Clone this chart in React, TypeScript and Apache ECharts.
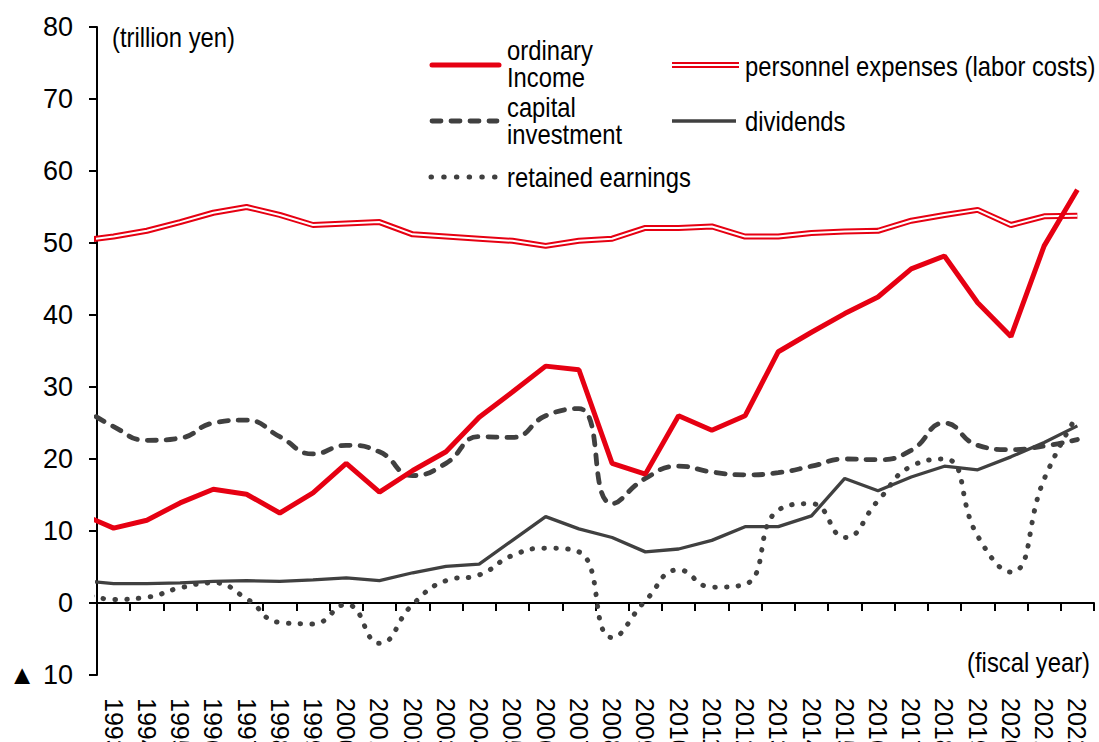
import React, { useEffect, useRef } from 'react';
import * as echarts from 'echarts';

const FONT = "'Liberation Sans', Arial, sans-serif";
const RED = '#E60012';
const GRAY = '#404040';
const NARROW = 0.85;

// Category labels shown on the axis
const yearLabels = [
  '1993', '1994', '1995', '1996', '1997', '1998', '1999', '2000', '2001', '2002',
  '2003', '2004', '2005', '2006', '2007', '2008', '2009', '2010', '2011', '2012',
  '2013', '2014', '2015', '2016', '2017', '2018', '2019', '2020', '2021', '2022',
];

// Years of the data points (1992 lies just outside the left edge and is clipped)
const dataYears = [
  1992, 1993, 1994, 1995, 1996, 1997, 1998, 1999, 2000, 2001, 2002,
  2003, 2004, 2005, 2006, 2007, 2008, 2009, 2010, 2011, 2012,
  2013, 2014, 2015, 2016, 2017, 2018, 2019, 2020, 2021, 2022,
];

// trillion yen
const ordinaryIncome = [
  12.4, 10.4, 11.5, 13.9, 15.8, 15.1, 12.5, 15.3, 19.4, 15.4, 18.4,
  21.0, 25.8, 29.3, 32.9, 32.4, 19.4, 17.9, 26.0, 24.0, 26.0,
  34.9, 37.6, 40.2, 42.5, 46.4, 48.2, 41.7, 37.0, 49.6, 57.4,
];
const personnelExpenses = [
  50.3, 50.9, 51.7, 52.9, 54.2, 55.0, 53.9, 52.5, 52.7, 52.9, 51.2,
  50.9, 50.6, 50.3, 49.6, 50.3, 50.6, 52.1, 52.1, 52.3, 50.9,
  50.9, 51.4, 51.6, 51.7, 53.1, 53.9, 54.6, 52.5, 53.7, 53.8,
];
const capitalInvestment = [
  27.3, 24.5, 22.6, 22.9, 25.0, 25.4, 23.1, 20.7, 21.9, 21.0, 17.7,
  19.4, 23.1, 23.0, 26.0, 27.0, 13.8, 17.3, 19.0, 18.2, 17.8,
  18.1, 19.0, 20.0, 19.9, 21.2, 25.0, 21.9, 21.3, 21.8, 22.7,
];
const dividends = [
  3.1, 2.7, 2.7, 2.8, 3.0, 3.1, 3.0, 3.2, 3.5, 3.1, 4.2,
  5.1, 5.4, 8.7, 12.0, 10.3, 9.1, 7.1, 7.5, 8.7, 10.6,
  10.6, 12.1, 17.3, 15.6, 17.5, 19.0, 18.5, 20.3, 22.3, 24.6,
];
const retainedEarnings = [
  1.5, 0.5, 0.8, 2.1, 2.8, 0.6, -2.7, -2.9, -0.2, -5.6, -0.2,
  3.1, 3.9, 6.6, 7.6, 7.1, -4.8, 0.3, 4.6, 2.2, 2.6,
  12.9, 13.8, 9.1, 14.2, 19.0, 20.0, 9.3, 4.3, 17.2, 26.1,
];

const yTicks = { min: -10, max: 80, interval: 10 };

const pairs = (vals: number[]) => vals.map((v, i) => [dataYears[i], v]);

function textEl(text: string, x: number, y: number, align: string, lineHeight = 28) {
  return {
    type: 'text',
    x,
    y,
    scaleX: NARROW,
    style: {
      text,
      fontSize: 28,
      fontFamily: FONT,
      fill: '#000',
      align,
      verticalAlign: 'middle',
      textAlign: align,
      textVerticalAlign: 'middle',
      lineHeight,
    },
    z: 100,
  };
}

function lineEl(x1: number, x2: number, y: number, style: any) {
  return { type: 'line', shape: { x1, y1: y, x2, y2: y }, style, z: 100 };
}

export default function App() {
  const ref = useRef<HTMLDivElement>(null);
  useEffect(() => {
    document.body.style.margin = '0';
    const chart = echarts.init(ref.current!, null, { renderer: 'svg' });
    const option: any = {
      animation: false,
      backgroundColor: '#fff',
      grid: {
        left: 97,
        right: 5,
        top: 27,
        bottom: 67,
        containLabel: false,
        outerBoundsMode: 'none',
      },
      xAxis: [
        {
          type: 'category',
          data: yearLabels,
          boundaryGap: true,
          position: 'bottom',
          axisLine: { show: false, onZero: false },
          axisTick: { show: false },
          splitLine: { show: false },
          axisLabel: {
            rotate: -90,
            interval: 0,
            margin: 23,
            fontSize: 25,
            fontFamily: FONT,
            color: '#000',
            hideOverlap: false,
          },
        },
        {
          type: 'value',
          min: 1992.5,
          max: 2022.5,
          interval: 1,
          position: 'bottom',
          axisLine: { show: true, onZero: true, lineStyle: { color: '#000', width: 2 } },
          axisTick: { show: true, length: 8, lineStyle: { color: '#000', width: 2 } },
          axisLabel: { show: false },
          splitLine: { show: false },
        },
      ],
      yAxis: {
        type: 'value',
        min: yTicks.min,
        max: yTicks.max,
        interval: yTicks.interval,
        axisLine: { show: true, onZero: false, lineStyle: { color: '#000', width: 2 } },
        axisTick: { show: true, length: 8, lineStyle: { color: '#000', width: 2 } },
        splitLine: { show: false },
        axisLabel: {
          margin: 24,
          fontSize: 27,
          fontFamily: FONT,
          color: '#000',
          formatter: (v: number) => (v < 0 ? '▲ ' + -v : String(v)),
        },
      },
      series: [
        {
          name: 'retained earnings',
          type: 'line',
          xAxisIndex: 1,
          data: pairs(retainedEarnings),
          smooth: 0.5,
          symbol: 'none',
          lineStyle: { color: GRAY, width: 5, type: [0.5, 11.3], cap: 'round' },
        },
        {
          name: 'dividends',
          type: 'line',
          xAxisIndex: 1,
          data: pairs(dividends),
          symbol: 'none',
          lineStyle: { color: GRAY, width: 3.3 },
        },
        {
          name: 'capital investment',
          type: 'line',
          xAxisIndex: 1,
          data: pairs(capitalInvestment),
          smooth: 0.5,
          symbol: 'none',
          lineStyle: { color: GRAY, width: 4.8, type: [9, 10], cap: 'round' },
        },
        {
          name: 'personnel expenses (labor costs)',
          type: 'line',
          xAxisIndex: 1,
          data: pairs(personnelExpenses),
          symbol: 'none',
          lineStyle: { color: RED, width: 6 },
        },
        {
          name: 'personnel expenses inner',
          type: 'line',
          xAxisIndex: 1,
          data: pairs(personnelExpenses),
          symbol: 'none',
          lineStyle: { color: '#fff', width: 2 },
        },
        {
          name: 'ordinary Income',
          type: 'line',
          xAxisIndex: 1,
          data: pairs(ordinaryIncome),
          symbol: 'none',
          lineStyle: { color: RED, width: 5 },
        },
      ],
      graphic: [
        textEl('(trillion yen)', 112, 37, 'left'),
        textEl('(fiscal year)', 1090, 662, 'right'),
        lineEl(432, 499, 65, { stroke: RED, lineWidth: 5, lineCap: 'round' }),
        textEl('ordinary\nIncome', 507, 64, 'left', 27),
        lineEl(672, 739, 65, { stroke: RED, lineWidth: 6 }),
        lineEl(672, 739, 65, { stroke: '#fff', lineWidth: 2 }),
        textEl('personnel expenses (labor costs)', 745, 66, 'left'),
        lineEl(432, 497, 121, { stroke: GRAY, lineWidth: 4.8, lineDash: [9, 10], lineCap: 'round' }),
        textEl('capital\ninvestment', 507, 121, 'left', 27),
        lineEl(672, 736, 121, { stroke: GRAY, lineWidth: 3.3 }),
        textEl('dividends', 745, 121, 'left'),
        lineEl(431, 495, 177, { stroke: GRAY, lineWidth: 5, lineDash: [0.5, 12.2], lineCap: 'round' }),
        textEl('retained earnings', 507, 177, 'left'),
      ],
    };
    chart.setOption(option);
    return () => chart.dispose();
  }, []);
  return <div ref={ref} style={{ width: 1099, height: 742 }} />;
}
